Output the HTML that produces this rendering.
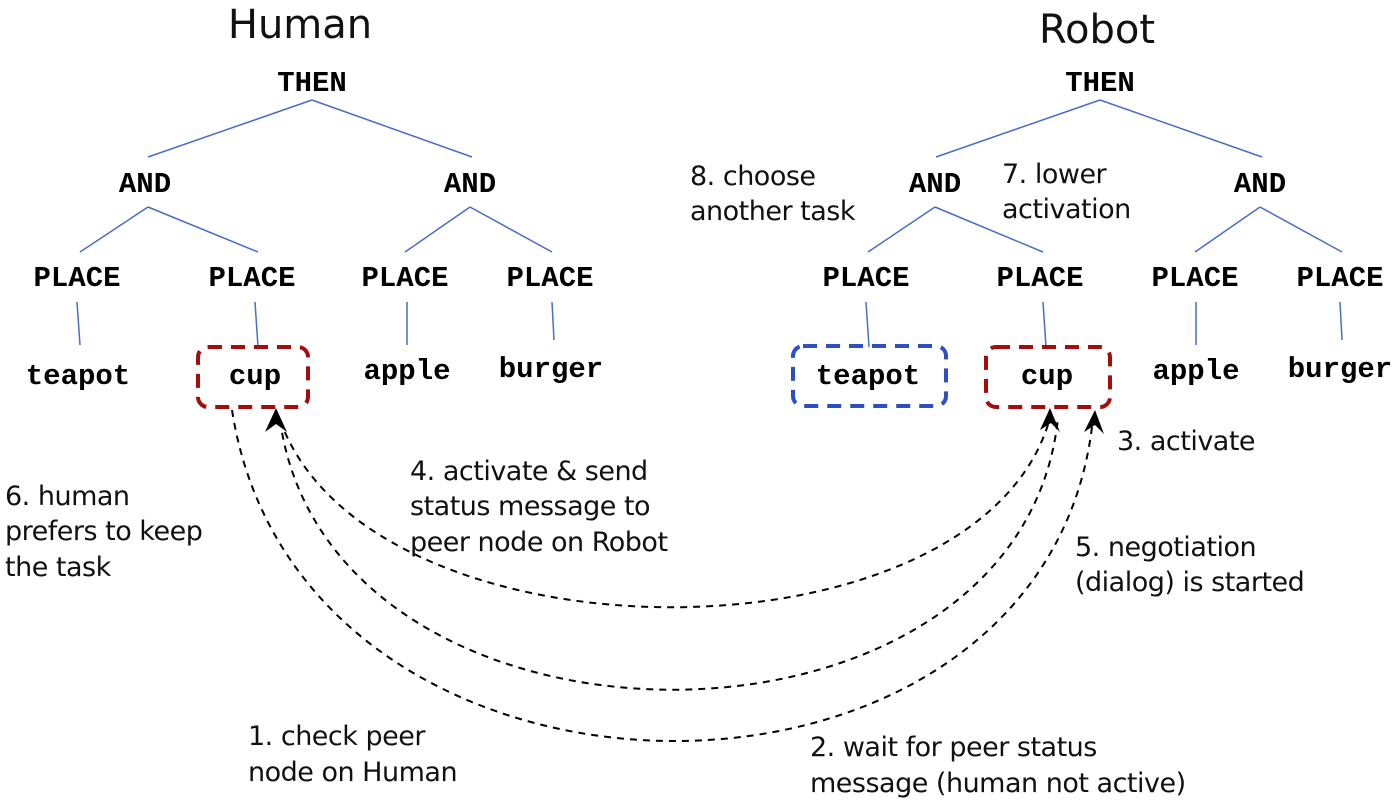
<!DOCTYPE html>
<html><head><meta charset="utf-8"><style>
body{margin:0;background:#fff;}
svg{display:block}
.m{font-family:"Liberation Mono",monospace;font-weight:bold;font-size:29px;fill:#000;text-anchor:middle}
.t{font-family:"DejaVu Sans","Liberation Sans",sans-serif;font-size:27px;fill:#111;letter-spacing:-0.5px}
.h{font-family:"DejaVu Sans","Liberation Sans",sans-serif;font-size:40px;fill:#111;text-anchor:middle}
.b{stroke:#4a6cc4;stroke-width:1.5;fill:none}
.d{stroke:#000;stroke-width:2;fill:none;stroke-dasharray:7,6}
</style></head><body>
<svg width="1400" height="803" viewBox="0 0 1400 803">
<text class="h" x="300" y="38">Human</text>
<text class="h" x="1097" y="43">Robot</text>
<g class="b">
<path d="M312,100 L148,157 M312,100 L472,157"/>
<path d="M148,207 L80,252 M148,207 L258,252 M470,207 L405,252 M470,207 L552,252"/>
<path d="M77,302 L80,345 M255,302 L258,347 M407,302 L407,345 M552,302 L554,340"/>
<path d="M1100,100 L936,157 M1100,100 L1262,157"/>
<path d="M935,207 L868,252 M935,207 L1043,252 M1260,207 L1195,252 M1260,207 L1342,252"/>
<path d="M866,302 L869,347 M1043,302 L1046,347 M1196,302 L1196,345 M1340,302 L1342,340"/>
</g>
<text class="m" x="312" y="91">THEN</text>
<text class="m" x="145" y="192">AND</text>
<text class="m" x="470" y="192">AND</text>
<text class="m" x="77" y="286">PLACE</text>
<text class="m" x="252" y="286">PLACE</text>
<text class="m" x="405" y="286">PLACE</text>
<text class="m" x="550" y="286">PLACE</text>
<text class="m" x="78" y="384">teapot</text>
<text class="m" x="255" y="384">cup</text>
<text class="m" x="407" y="379">apple</text>
<text class="m" x="551" y="377">burger</text>
<text class="m" x="1100" y="91">THEN</text>
<text class="m" x="935" y="192">AND</text>
<text class="m" x="1260" y="192">AND</text>
<text class="m" x="866" y="286">PLACE</text>
<text class="m" x="1040" y="286">PLACE</text>
<text class="m" x="1195" y="286">PLACE</text>
<text class="m" x="1340" y="286">PLACE</text>
<text class="m" x="868" y="384">teapot</text>
<text class="m" x="1047" y="384">cup</text>
<text class="m" x="1196" y="379">apple</text>
<text class="m" x="1340" y="377">burger</text>
<rect x="198" y="347" width="110" height="60" rx="10" fill="none" stroke="#a50d0d" stroke-width="4" stroke-dasharray="14,9"/>
<rect x="986" y="347" width="124" height="60" rx="10" fill="none" stroke="#a50d0d" stroke-width="4" stroke-dasharray="14,9"/>
<rect x="793" y="346" width="153" height="60" rx="10" fill="none" stroke="#2e4fc4" stroke-width="4" stroke-dasharray="14,9"/>
<path class="d" d="M232,410 C300,850 1050,850 1093,418"/>
<path class="d" d="M280,420 C330,780 1020,780 1058,418"/>
<path class="d" d="M280,420 C370,670 980,670 1050,418"/>
<g fill="#000">
<path d="M276,408 L265,432 L276,424 L287,432 Z"/>
<path d="M1050,408 L1040,430 L1051,423 L1060,432 Z"/>
<path d="M1095,410 L1084,432 L1095,425 L1104,434 Z"/>
</g>
<text class="t" x="5" y="505">6. human</text>
<text class="t" x="5" y="540">prefers to keep</text>
<text class="t" x="5" y="576">the task</text>
<text class="t" x="410" y="480">4. activate &amp; send</text>
<text class="t" x="410" y="515">status message to</text>
<text class="t" x="410" y="551">peer node on Robot</text>
<text class="t" x="690" y="185">8. choose</text>
<text class="t" x="690" y="220">another task</text>
<text class="t" x="1002" y="183">7. lower</text>
<text class="t" x="1002" y="218">activation</text>
<text class="t" x="1117" y="450">3. activate</text>
<text class="t" x="1075" y="556">5. negotiation</text>
<text class="t" x="1075" y="591">(dialog) is started</text>
<text class="t" x="248" y="745">1. check peer</text>
<text class="t" x="248" y="781">node on Human</text>
<text class="t" x="810" y="756">2. wait for peer status</text>
<text class="t" x="810" y="792">message (human not active)</text>
</svg>
</body></html>
